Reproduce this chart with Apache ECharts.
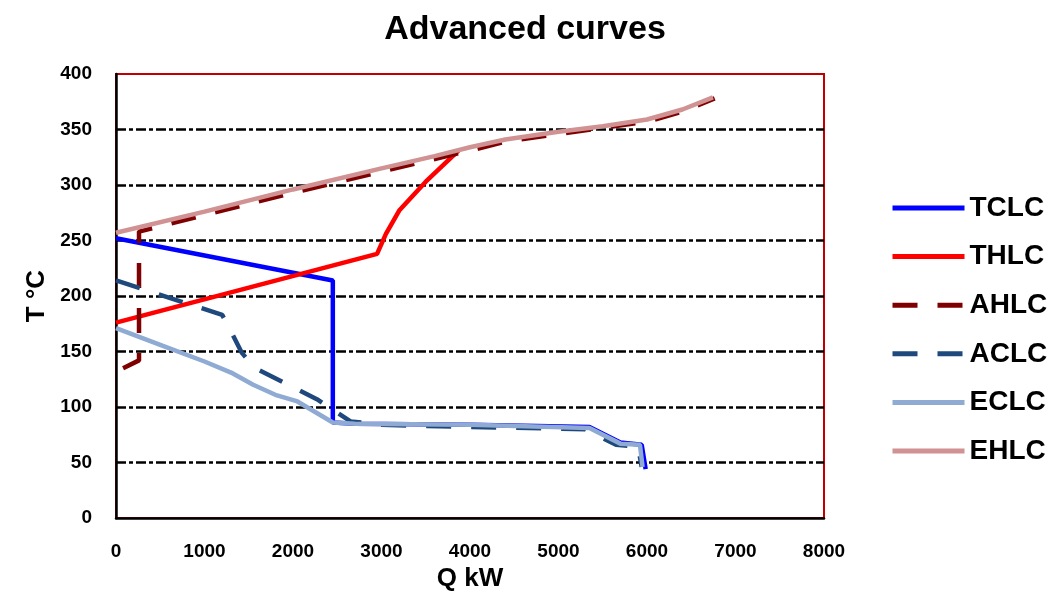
<!DOCTYPE html>
<html>
<head>
<meta charset="utf-8">
<script src="https://cdn.jsdelivr.net/npm/echarts@6/dist/echarts.min.js"></script>
<style>
  html, body { margin: 0; padding: 0; background: #fff; }
  #chart { width: 1050px; height: 593px; }
</style>
</head>
<body>
<div id="chart"></div>
<script>
// points are [Q kW, T °C]
var tclc = [[0, 252], [2450, 214], [2450, 86], [2700, 85], [4000, 84], [5350, 82], [5700, 68], [5940, 66], [5985, 44]];
var thlc = [[0, 176], [2950, 238], [3050, 256], [3200, 277], [3500, 303], [3870, 331]];
var ahlc = [[80, 135], [260, 142], [260, 258], [1000, 273], [2000, 293], [3000, 312], [4000, 331], [4400, 339], [5000, 346], [6000, 357], [6400, 366], [6765, 378]];
var aclc = [[0, 214], [1200, 183], [1300, 168], [1420, 149], [1570, 135], [2000, 118], [2270, 107], [2650, 87], [3000, 84], [4000, 82], [5300, 80], [5650, 66], [5900, 64], [5940, 46]];
var eclc = [[0, 171], [500, 156], [1000, 141], [1300, 131], [1550, 120], [1800, 111], [2050, 105], [2450, 86], [2700, 85], [4000, 84], [5350, 81], [5700, 67], [5920, 66], [5950, 46]];
var ehlc = [[0, 257], [1000, 276], [2000, 296], [3000, 315], [3600, 326], [4000, 334], [4400, 341], [5000, 348], [5500, 353], [6000, 359], [6400, 368], [6745, 379]];

var seriesNames = ['TCLC', 'THLC', 'AHLC', 'ACLC', 'ECLC', 'EHLC'];
var seriesData = [tclc, thlc, ahlc, aclc, eclc, ehlc];
var seriesColors = ['#0000FF', '#FF0000', '#7F0000', '#1F497D', '#8FAAD3', '#D09292'];
var seriesDash = ['solid', 'solid', [25, 20], [25, 20], 'solid', 'solid'];

var font = 'Liberation Sans, Arial, sans-serif';

var chart = echarts.init(document.getElementById('chart'));
chart.setOption({
  animation: false,
  title: {
    text: 'Advanced curves',
    left: 'center',
    top: 8,
    textStyle: { fontFamily: font, fontWeight: 'bold', fontSize: 34, color: '#000' }
  },
  legend: {
    orient: 'vertical',
    left: 885,
    top: 188,
    itemWidth: 72,
    itemHeight: 14,
    itemGap: 18.6,
    data: seriesNames,
    itemStyle: { opacity: 0 },
    lineStyle: { width: 5 },
    textStyle: { fontFamily: font, fontWeight: 'bold', fontSize: 28, lineHeight: 30, color: '#000' }
  },
  grid: {
    left: 116,
    right: 226,
    top: 74,
    bottom: 75,
    outerBoundsMode: 'none',
    show: true,
    borderColor: '#C00000',
    borderWidth: 2
  },
  xAxis: {
    type: 'value',
    min: 0,
    max: 8000,
    interval: 1000,
    name: 'Q kW',
    nameLocation: 'middle',
    nameGap: 48,
    nameTextStyle: { fontFamily: font, fontWeight: 'bold', fontSize: 26, color: '#000' },
    axisLine: { show: true, lineStyle: { color: '#000', width: 2.5 } },
    axisTick: { show: false },
    axisLabel: {
      margin: 24, fontFamily: font, fontWeight: 'bold', fontSize: 19, color: '#000',
      formatter: function (v) { return String(v); }
    },
    splitLine: { show: false }
  },
  yAxis: {
    type: 'value',
    min: 0,
    max: 400,
    interval: 50,
    name: 'T °C',
    nameLocation: 'middle',
    nameGap: 63,
    nameTextStyle: { fontFamily: font, fontWeight: 'bold', fontSize: 26, color: '#000' },
    axisLine: { show: true, lineStyle: { color: '#000', width: 2.5 } },
    axisTick: { show: false },
    axisLabel: {
      margin: 24, fontFamily: font, fontWeight: 'bold', fontSize: 19, color: '#000',
      formatter: function (v) { return String(v); }
    },
    splitLine: {
      show: true,
      showMinLine: false,
      showMaxLine: false,
      lineStyle: { color: '#000', width: 2.5, type: [10, 3, 4, 3] }
    }
  },
  series: seriesNames.map(function (name, i) {
    return {
      name: name,
      type: 'line',
      data: seriesData[i],
      symbol: 'none',
      showSymbol: false,
      color: seriesColors[i],
      lineStyle: { color: seriesColors[i], width: 4.5, type: seriesDash[i] }
    };
  })
});
</script>
</body>
</html>
